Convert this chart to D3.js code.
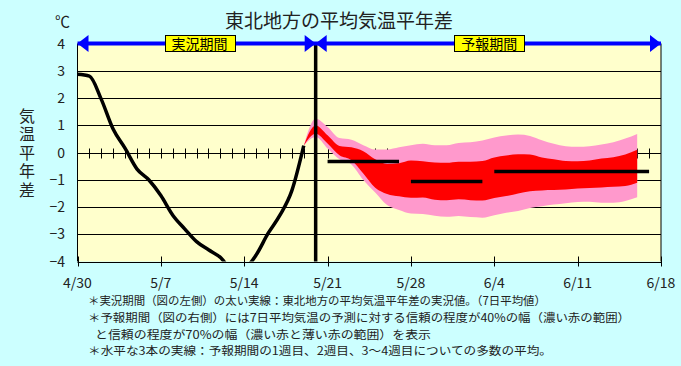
<!DOCTYPE html>
<html>
<head>
<meta charset="utf-8">
<title>東北地方の平均気温平年差</title>
<script src="https://cdnjs.cloudflare.com/ajax/libs/d3/7.8.5/d3.min.js"></script>
<style>
  body { margin: 0; background: #ccffff; }
  svg { display: block; font-family: "Noto Sans CJK JP", sans-serif; }
</style>
</head>
<body>
<script>
// days are counted from 4/30 (day 0)
var tickDays = [0, 7, 14, 21, 28, 35, 42, 49];
var tickLabels = ["4/30", "5/7", "5/14", "5/21", "5/28", "6/4", "6/11", "6/18"];
var yTicks = [4, 3, 2, 1, 0, -1, -2, -3, -4];

// observed 7-day mean anomaly, day 0 .. 19
var observed = [2.87, 2.8, 1.95, 0.85, 0.15, -0.61, -1.01, -1.58, -2.3, -2.8,
                -3.27, -3.57, -3.85, -4.3, -4.25, -3.76, -2.97, -2.3, -1.4, 0.25];

// forecast ranges, day 19 .. 47
var bandStart = 19;
var pinkHigh = [0.25, 1.24, 0.94, 0.53, 0.47, 0.27, 0.11, 0.11, 0.19, 0.27, 0.32, 0.27, 0.27, 0.35, 0.38,
                0.44, 0.55, 0.62, 0.66, 0.61, 0.45, 0.32, 0.23, 0.21, 0.23, 0.29, 0.38, 0.51, 0.68];
var redHigh  = [0.25, 0.99, 0.63, 0.24, 0.19, 0.05, -0.25, -0.42, -0.39, -0.29, -0.32, -0.37, -0.38, -0.34, -0.34,
                -0.31, -0.18, -0.11, -0.06, -0.07, -0.18, -0.25, -0.31, -0.32, -0.29, -0.22, -0.17, -0.07, 0.1];
var redLow   = [0.25, 0.69, 0.33, -0.1, -0.28, -0.77, -1.29, -1.52, -1.61, -1.66, -1.65, -1.73, -1.75, -1.72, -1.75,
                -1.76, -1.67, -1.6, -1.5, -1.42, -1.39, -1.38, -1.36, -1.32, -1.3, -1.28, -1.26, -1.23, -1.11];
var pinkLow  = [0.25, 0.57, 0.15, -0.25, -0.44, -1.01, -1.47, -1.93, -2.11, -2.24, -2.26, -2.32, -2.36, -2.33, -2.37,
                -2.39, -2.3, -2.21, -2.15, -2.04, -1.97, -1.91, -1.86, -1.82, -1.81, -1.84, -1.84, -1.78, -1.64];

// ensemble means for week 1, week 2, weeks 3-4
var meanFrom = [21, 28, 35];
var meanTo = [27, 34, 48];
var meanValue = [-0.33, -1.06, -0.7];

var splitDay = 20;
var lastDay = 49;

var notes = [
  "＊実況期間（図の左側）の太い実線：東北地方の平均気温平年差の実況値。（7日平均値）",
  "＊予報期間（図の右側）には7日平均気温の予測に対する信頼の程度が40%の幅（濃い赤の範囲）",
  "と信頼の程度が70%の幅（濃い赤と薄い赤の範囲）を表示",
  "＊水平な3本の実線：予報期間の1週目、2週目、3～4週目についての多数の平均。"
];
var noteWidth = [458, 542, 336, 464];

var svg = d3.select("body").append("svg")
  .attr("width", 681)
  .attr("height", 366);

var x = d3.scaleLinear().domain([0, lastDay]).range([77.5, 661]);
var y = d3.scaleLinear().domain([-4, 4]).range([261.5, 43.5]);

// plot area
svg.append("rect")
  .attr("x", x(0)).attr("y", y(4))
  .attr("width", x(lastDay) - x(0)).attr("height", y(-4) - y(4))
  .attr("fill", "#ffffcc");

// grid lines
svg.append("g").selectAll("line")
  .data(yTicks.filter(function (d) { return d != 0 && Math.abs(d) < 4; }))
  .enter().append("line")
  .attr("x1", x(0)).attr("x2", x(lastDay))
  .attr("y1", function (d) { return Math.round(y(d)) + 0.5; })
  .attr("y2", function (d) { return Math.round(y(d)) + 0.5; })
  .attr("stroke", "#000");

// zero line with a tick every day
var y0 = Math.round(y(0)) + 0.5;
svg.append("line")
  .attr("x1", x(0)).attr("x2", x(lastDay))
  .attr("y1", y0).attr("y2", y0)
  .attr("stroke", "#000");
svg.append("g").selectAll("line")
  .data(d3.range(1, lastDay))
  .enter().append("line")
  .attr("x1", function (d) { return Math.round(x(d)) + 0.5; })
  .attr("x2", function (d) { return Math.round(x(d)) + 0.5; })
  .attr("y1", y0 - 5).attr("y2", y0 + 5)
  .attr("stroke", "#000");

// forecast bands
var bandArea = function (lo, hi) {
  return d3.area()
    .x(function (d, i) { return x(bandStart + i); })
    .y0(function (d, i) { return y(lo[i]); })
    .y1(function (d, i) { return y(hi[i]); })
    .curve(d3.curveMonotoneX);
};
svg.append("path").datum(pinkHigh)
  .attr("d", bandArea(pinkLow, pinkHigh))
  .attr("fill", "#ff99cc");
svg.append("path").datum(redHigh)
  .attr("d", bandArea(redLow, redHigh))
  .attr("fill", "#ff0000");

// frame
svg.append("line")
  .attr("x1", x(0)).attr("x2", x(0)).attr("y1", y(4)).attr("y2", y(-4))
  .attr("stroke", "#000");
svg.append("line")
  .attr("x1", x(lastDay)).attr("x2", x(lastDay)).attr("y1", y(4)).attr("y2", y(-4))
  .attr("stroke", "#000");
var yb = Math.round(y(-4)) + 0.5;
svg.append("line")
  .attr("x1", x(0)).attr("x2", x(lastDay)).attr("y1", yb).attr("y2", yb)
  .attr("stroke", "#000");
svg.append("g").selectAll("line")
  .data(tickDays)
  .enter().append("line")
  .attr("x1", function (d) { return Math.round(x(d)) + 0.5; })
  .attr("x2", function (d) { return Math.round(x(d)) + 0.5; })
  .attr("y1", yb - 6).attr("y2", yb + 4)
  .attr("stroke", "#000");

// x labels
svg.append("g").selectAll("text")
  .data(tickDays)
  .enter().append("text")
  .attr("x", function (d) { return x(d); })
  .attr("y", 288)
  .attr("text-anchor", "middle")
  .attr("font-size", 14)
  .attr("fill", "#222")
  .text(function (d, i) { return tickLabels[i]; });

// y labels
svg.append("g").selectAll("text")
  .data(yTicks)
  .enter().append("text")
  .attr("x", 65)
  .attr("y", function (d) { return y(d) + 5; })
  .attr("text-anchor", "end")
  .attr("font-size", 14)
  .attr("fill", "#222")
  .text(function (d) { return d3.format("d")(d); });

// observed line
svg.append("clipPath").attr("id", "plot")
  .append("rect")
  .attr("x", x(0)).attr("y", y(4))
  .attr("width", x(lastDay) - x(0)).attr("height", y(-4) - y(4));
svg.append("path").datum(observed)
  .attr("clip-path", "url(#plot)")
  .attr("d", d3.line()
    .x(function (d, i) { return x(i); })
    .y(function (d) { return y(d); })
    .curve(d3.curveMonotoneX))
  .attr("fill", "none")
  .attr("stroke", "#000")
  .attr("stroke-width", 3.5)
  .attr("stroke-linejoin", "round");

// weekly means
svg.append("g").selectAll("line")
  .data(meanValue)
  .enter().append("line")
  .attr("x1", function (d, i) { return x(meanFrom[i]); })
  .attr("x2", function (d, i) { return x(meanTo[i]); })
  .attr("y1", function (d) { return y(d); })
  .attr("y2", function (d) { return y(d); })
  .attr("stroke", "#000")
  .attr("stroke-width", 3.5);

// split line
svg.append("line")
  .attr("x1", x(splitDay)).attr("x2", x(splitDay))
  .attr("y1", y(4)).attr("y2", y(-4))
  .attr("stroke", "#000")
  .attr("stroke-width", 3.5);

// period arrows
var ya = y(4);
svg.append("line")
  .attr("x1", x(0)).attr("x2", x(lastDay))
  .attr("y1", ya).attr("y2", ya)
  .attr("stroke", "#0000ff")
  .attr("stroke-width", 4);
function head(tip, dir) {
  return "M" + tip + "," + ya + "L" + (tip + dir * 11) + "," + (ya - 8.5) +
         "L" + (tip + dir * 11) + "," + (ya + 8.5) + "Z";
}
[[x(0), 1], [x(splitDay), -1], [x(splitDay), 1], [x(lastDay), -1]].forEach(function (a) {
  svg.append("path").attr("d", head(a[0], a[1])).attr("fill", "#0000ff");
});

var periods = [["実況期間", 0, splitDay], ["予報期間", splitDay, lastDay]];
periods.forEach(function (p) {
  var cx = (x(p[1]) + x(p[2])) / 2 + (p[1] == 0 ? 3 : 1);
  svg.append("rect")
    .attr("x", Math.round(cx - 35) + 0.5).attr("y", 35.5)
    .attr("width", 70).attr("height", 16)
    .attr("fill", "#ffff00").attr("stroke", "#000");
  svg.append("text")
    .attr("x", cx).attr("y", 48.5)
    .attr("text-anchor", "middle")
    .attr("font-size", 14)
    .attr("fill", "#000")
    .text(p[0]);
});

// titles
svg.append("text")
  .attr("x", 339).attr("y", 28)
  .attr("text-anchor", "middle")
  .attr("font-size", 19)
  .attr("fill", "#222")
  .text("東北地方の平均気温平年差");
svg.append("text")
  .attr("x", 55).attr("y", 27)
  .attr("font-size", 15)
  .attr("fill", "#222")
  .text("℃");
svg.append("text")
  .attr("x", 27).attr("y", 108)
  .attr("writing-mode", "tb")
  .attr("letter-spacing", 2.4)
  .attr("font-size", 16)
  .attr("fill", "#222")
  .text("気温平年差");

// notes
svg.append("g").selectAll("text")
  .data(notes)
  .enter().append("text")
  .attr("x", function (d, i) { return i == 2 ? 95 : 88; })
  .attr("y", function (d, i) { return 305 + i * 16.8; })
  .attr("font-size", 11.5)
  .attr("fill", "#222")
  .attr("textLength", function (d, i) { return noteWidth[i]; })
  .attr("lengthAdjust", "spacingAndGlyphs")
  .text(function (d) { return d; });
</script>
</body>
</html>
